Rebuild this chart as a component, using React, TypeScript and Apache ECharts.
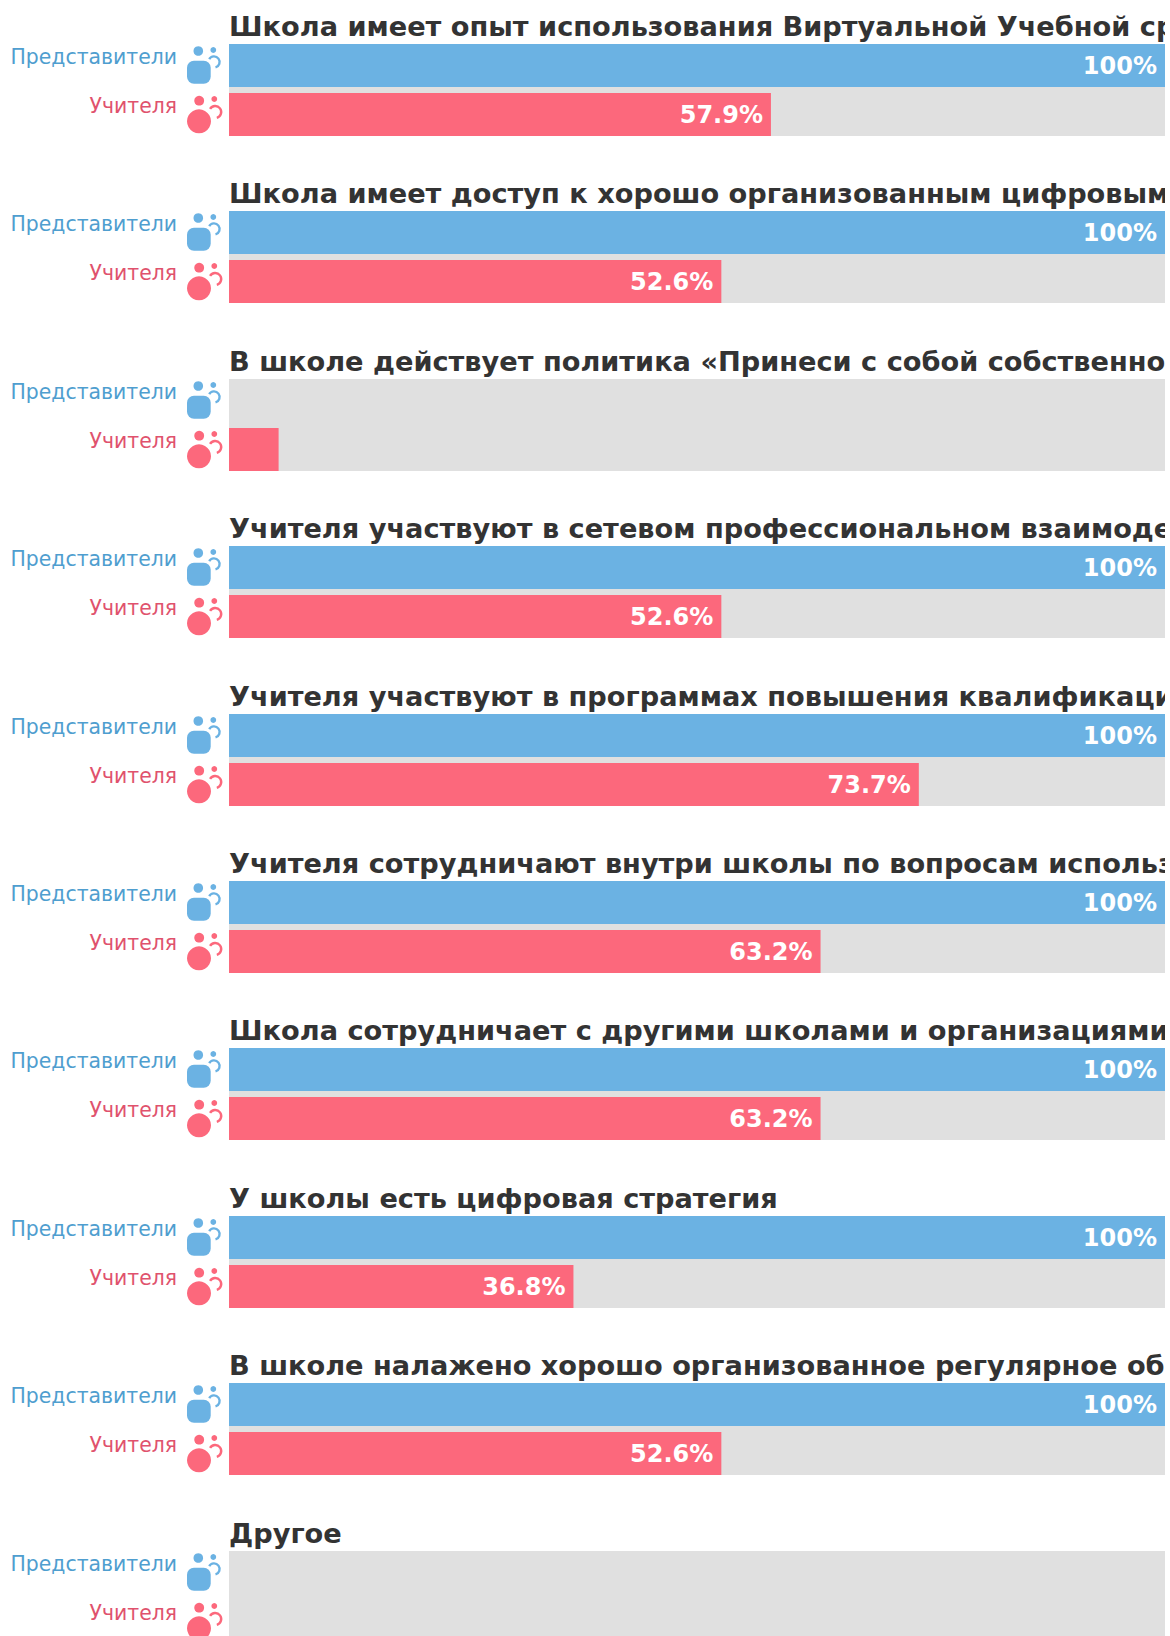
import React, { useEffect, useRef } from "react";
import * as echarts from "echarts";

const titles = [
  "Школа имеет опыт использования Виртуальной Учебной ср",
  "Школа имеет доступ к хорошо организованным цифровым",
  "В школе действует политика «Принеси с собой собственно",
  "Учителя участвуют в сетевом профессиональном взаимоде",
  "Учителя участвуют в программах повышения квалификаци",
  "Учителя сотрудничают внутри школы по вопросам использ",
  "Школа сотрудничает с другими школами и организациями",
  "У школы есть цифровая стратегия",
  "В школе налажено хорошо организованное регулярное об",
  "Другое",
];
const groups = ["Представители", "Учителя"];
const representatives = [100, 100, 0, 100, 100, 100, 100, 100, 100, 0];
const teachers = [57.9, 52.6, 5.3, 52.6, 73.7, 63.2, 63.2, 36.8, 52.6, 0];
const track = [100];

const BLUE = "#6bb2e3";
const PINK = "#fc687c";
const BLUE_TEXT = "#4f9ecf";
const PINK_TEXT = "#e0526d";
const FONT = "DejaVu Sans";
const LEFT = 229;
const TOP = 44;
const STEP = 167.4;
const PLOT_WIDTH = 936;

function rowTop(i: number) {
  return Math.round(TOP + STEP * i);
}

function fmt(v: number) {
  return v === 100 ? "100%" : v.toFixed(1) + "%";
}

function icon(top: number) {
  const dy = top - 44;
  return {
    type: "group",
    x: 0,
    y: dy,
    silent: true,
    children: [
      { type: "circle", shape: { cx: 198.3, cy: 51, r: 4.8 }, style: { fill: BLUE } },
      { type: "circle", shape: { cx: 213.3, cy: 50, r: 2.9 }, style: { fill: BLUE } },
      { type: "rect", shape: { x: 187, y: 60.7, width: 23.7, height: 23, r: 7 }, style: { fill: BLUE } },
      {
        type: "arc",
        shape: { cx: 214, cy: 62, r: 5.6, startAngle: -2.6, endAngle: 1.3, clockwise: true },
        style: { stroke: BLUE, fill: "none", lineWidth: 2.4 },
      },
      { type: "circle", shape: { cx: 199.2, cy: 100.7, r: 4.9 }, style: { fill: PINK } },
      { type: "circle", shape: { cx: 214.3, cy: 99, r: 2.9 }, style: { fill: PINK } },
      { type: "circle", shape: { cx: 199, cy: 121.3, r: 12 }, style: { fill: PINK } },
      {
        type: "arc",
        shape: { cx: 215.2, cy: 112, r: 6, startAngle: -2.6, endAngle: 1.3, clockwise: true },
        style: { stroke: PINK, fill: "none", lineWidth: 2.4 },
      },
    ],
  };
}

export default function App() {
  const ref = useRef<HTMLDivElement>(null);
  useEffect(() => {
    document.body.style.margin = "0";
    document.body.style.overflow = "hidden";
    const chart = echarts.init(ref.current!, undefined, { renderer: "svg" });
    const grid: any[] = [];
    const xAxis: any[] = [];
    const yAxis: any[] = [];
    const series: any[] = [];
    const title: any[] = [];
    const graphic: any[] = [];
    const labelToken = { fontFamily: FONT, fontSize: 20.4, lineHeight: 24, padding: [0, 0, 17, 0] };
    titles.forEach((t, i) => {
      const top = rowTop(i);
      grid.push({ left: LEFT, top: top - 3, width: PLOT_WIDTH, height: 98, containLabel: false, outerBoundsMode: "none" });
      xAxis.push({ gridIndex: i, type: "value", min: 0, max: 100, show: false });
      const barAxis = yAxis.length;
      yAxis.push({
        gridIndex: i,
        type: "category",
        inverse: true,
        data: groups,
        axisLine: { show: false },
        axisTick: { show: false },
        axisLabel: {
          interval: 0,
          margin: 52,
          formatter: (v: string) => `{${v === groups[0] ? "rep" : "tea"}|${v}}`,
          rich: {
            rep: { ...labelToken, color: BLUE_TEXT },
            tea: { ...labelToken, color: PINK_TEXT },
          },
        },
      });
      const trackAxis = yAxis.length;
      yAxis.push({ gridIndex: i, type: "category", data: ["track"], show: false });
      series.push({
        type: "bar",
        xAxisIndex: i,
        yAxisIndex: trackAxis,
        data: track,
        barWidth: 92,
        silent: true,
        z: 1,
        itemStyle: { color: "#e0e0e0" },
        label: { show: false },
      });
      const label = {
        position: "insideRight",
        distance: 8,
        color: "#fff",
        fontFamily: FONT,
        fontWeight: "bold",
        fontSize: 24,
        formatter: (p: any) => fmt(p.value),
      };
      series.push({
        type: "bar",
        xAxisIndex: i,
        yAxisIndex: barAxis,
        barWidth: 43,
        barGap: "-100%",
        z: 2,
        data: [
          { value: representatives[i], itemStyle: { color: BLUE }, label: { ...label, show: representatives[i] >= 10 } },
          { value: teachers[i], itemStyle: { color: PINK }, label: { ...label, show: teachers[i] >= 10 } },
        ],
      });
      title.push({
        text: t,
        left: LEFT - 5,
        top: top - 36,
        padding: 5,
        textStyle: { color: "#333", fontFamily: FONT, fontWeight: "bold", fontSize: 27.2 },
      });
      graphic.push(icon(top));
    });
    chart.setOption({ animation: false, grid, xAxis, yAxis, series, title, graphic, tooltip: { show: false } });
    return () => chart.dispose();
  }, []);
  return (
    <div style={{ width: 1170, height: 1636, overflow: "hidden", background: "#fff" }}>
      <div ref={ref} style={{ width: 1165, height: 1636 }} />
    </div>
  );
}
